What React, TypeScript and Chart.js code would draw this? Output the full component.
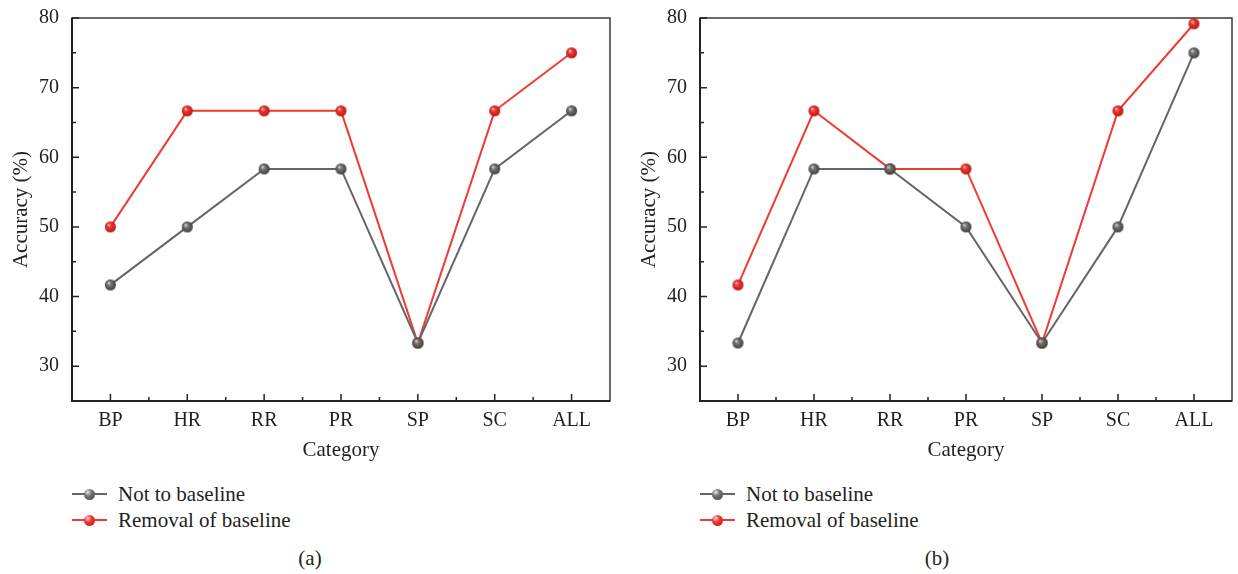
import React, { useEffect, useRef } from "react";
import { Chart, registerables } from "chart.js";

Chart.register(...registerables);

const categories = ["BP", "HR", "RR", "PR", "SP", "SC", "ALL"];
const notBaselineA = [41.67, 50, 58.33, 58.33, 33.33, 58.33, 66.67];
const removalA = [50, 66.67, 66.67, 66.67, 33.33, 66.67, 75];
const notBaselineB = [33.33, 58.33, 58.33, 50, 33.33, 50, 75];
const removalB = [41.67, 66.67, 58.33, 58.33, 33.33, 66.67, 79.17];
const yMajorTicks = [30, 40, 50, 60, 70, 80];
const yMinorTicks = [35, 45, 55, 65, 75];
const seriesLabels = ["Not to baseline", "Removal of baseline"];
const captions = ["(a)", "(b)"];

const FONT = '"Liberation Serif", "Times New Roman", serif';
const TEXT = "#231f20";
const GRAY = "#666666";
const RED = "#ef3b36";

function makeSphere(hi: string, mid: string, dark: string, r: number) {
  const c = document.createElement("canvas");
  const s = Math.ceil(r * 2 + 2);
  c.width = s;
  c.height = s;
  const ctx = c.getContext("2d")!;
  const cx = s / 2;
  const g = ctx.createRadialGradient(cx - r * 0.35, cx - r * 0.4, 0, cx, cx, r * 1.05);
  g.addColorStop(0, hi);
  g.addColorStop(0.35, mid);
  g.addColorStop(1, dark);
  ctx.fillStyle = g;
  ctx.beginPath();
  ctx.arc(cx, cx, r, 0, Math.PI * 2);
  ctx.fill();
  return c;
}

const framePlugin = {
  id: "frameTicks",
  afterDraw(chart: any) {
    const { ctx, chartArea: a, scales } = chart;
    const x = scales.x;
    const y = scales.y;
    ctx.save();
    ctx.strokeStyle = "#3a3a3a";
    ctx.lineWidth = 1.5;
    ctx.strokeRect(a.left, a.top, a.right - a.left, a.bottom - a.top);
    ctx.strokeStyle = "#222";
    ctx.lineWidth = 2;
    ctx.beginPath();
    ctx.moveTo(a.left, a.top);
    ctx.lineTo(a.left, a.bottom);
    ctx.lineTo(a.right, a.bottom);
    ctx.stroke();
    ctx.lineWidth = 1.5;
    ctx.beginPath();
    yMajorTicks.forEach((v) => {
      const p = y.getPixelForValue(v);
      ctx.moveTo(a.left, p);
      ctx.lineTo(a.left + 7, p);
    });
    yMinorTicks.forEach((v) => {
      const p = y.getPixelForValue(v);
      ctx.moveTo(a.left, p);
      ctx.lineTo(a.left + 4, p);
    });
    categories.forEach((_, i) => {
      const p = x.getPixelForValue(i);
      ctx.moveTo(p, a.bottom);
      ctx.lineTo(p, a.bottom - 7);
      if (i < categories.length - 1) {
        const q = (p + x.getPixelForValue(i + 1)) / 2;
        ctx.moveTo(q, a.bottom);
        ctx.lineTo(q, a.bottom - 4);
      }
    });
    ctx.stroke();
    ctx.restore();
  },
};

function Panel(props: {
  notData: number[];
  remData: number[];
  left: number;
  width: number;
  padRight: number;
  caption: string;
  captionX: number;
}) {
  const ref = useRef<HTMLCanvasElement>(null);
  useEffect(() => {
    const grayBall = makeSphere("#e8e8e8", "#777777", "#3c3c3c", 5.5);
    const redBall = makeSphere("#ffd6d4", "#ef3b36", "#b8140f", 5.5);
    const chart = new Chart(ref.current!, {
      type: "line",
      data: {
        labels: categories,
        datasets: [
          {
            label: seriesLabels[0],
            data: props.notData,
            borderColor: GRAY,
            borderWidth: 2,
            pointStyle: grayBall as any,
            tension: 0,
          },
          {
            label: seriesLabels[1],
            data: props.remData,
            borderColor: RED,
            borderWidth: 2,
            pointStyle: redBall as any,
            tension: 0,
          },
        ],
      },
      options: {
        animation: false,
        responsive: true,
        maintainAspectRatio: false,
        layout: { padding: { left: 0, right: props.padRight, top: 18, bottom: 0 } },
        plugins: { legend: { display: false }, tooltip: { enabled: false } },
        scales: {
          x: {
            type: "category",
            offset: true,
            grid: { display: false },
            border: { display: false },
            ticks: { padding: 0, color: TEXT, font: { family: FONT, size: 20 } },
            title: {
              display: true,
              text: "Category",
              color: TEXT,
              font: { family: FONT, size: 21 },
              padding: { top: 0, bottom: 7 },
            },
            afterFit: (s: any) => {
              s.height = 69;
            },
          },
          y: {
            min: 25,
            max: 80,
            afterBuildTicks: (s: any) => {
              s.ticks = yMajorTicks.map((v) => ({ value: v }));
            },
            grid: { display: false },
            border: { display: false },
            ticks: { padding: 5, color: TEXT, font: { family: FONT, size: 20 } },
            title: {
              display: true,
              text: "Accuracy (%)",
              color: TEXT,
              font: { family: FONT, size: 21 },
              padding: { top: 9, bottom: 0 },
            },
            afterFit: (s: any) => {
              s.width = 72;
            },
          },
        },
      },
      plugins: [framePlugin],
    });
    return () => chart.destroy();
  }, []);

  const legendRow = (label: string, color: string, ball: string, top: number) => (
    <div style={{ position: "absolute", left: 72, top: top - 12, height: 24, width: 300 }}>
      <div
        style={{
          position: "absolute",
          left: 0,
          top: 11,
          width: 35,
          height: 2,
          background: color,
        }}
      />
      <div
        style={{
          position: "absolute",
          left: 12,
          top: 6.5,
          width: 11,
          height: 11,
          borderRadius: "50%",
          background: ball,
        }}
      />
      <div
        style={{
          position: "absolute",
          left: 46,
          top: 0,
          lineHeight: "24px",
          fontFamily: FONT,
          fontSize: 21,
          color: TEXT,
          whiteSpace: "nowrap",
        }}
      >
        {label}
      </div>
    </div>
  );

  return (
    <div style={{ position: "absolute", left: props.left, top: 0, width: props.width, height: 574 }}>
      <div style={{ position: "absolute", left: 0, top: 0, width: props.width, height: 470 }}>
        <canvas ref={ref} />
      </div>
      {legendRow(
        seriesLabels[0],
        GRAY,
        "radial-gradient(circle at 35% 30%, #e8e8e8 0%, #777 35%, #3c3c3c 100%)",
        494
      )}
      {legendRow(
        seriesLabels[1],
        RED,
        "radial-gradient(circle at 35% 30%, #ffd6d4 0%, #ef3b36 35%, #b8140f 100%)",
        520
      )}
      <div
        style={{
          position: "absolute",
          left: props.captionX - 50,
          width: 100,
          top: 546,
          lineHeight: "24px",
          textAlign: "center",
          fontFamily: FONT,
          fontSize: 21,
          color: TEXT,
        }}
      >
        {props.caption}
      </div>
    </div>
  );
}

export default function App() {
  return (
    <div style={{ position: "fixed", left: 0, top: 0, width: 1238, height: 574, background: "#fff", overflow: "hidden" }}>
      <Panel
        notData={notBaselineA}
        remData={removalA}
        left={0}
        width={619}
        padRight={9}
        caption={captions[0]}
        captionX={310}
      />
      <Panel
        notData={notBaselineB}
        remData={removalB}
        left={628}
        width={610}
        padRight={1}
        caption={captions[1]}
        captionX={309}
      />
    </div>
  );
}
